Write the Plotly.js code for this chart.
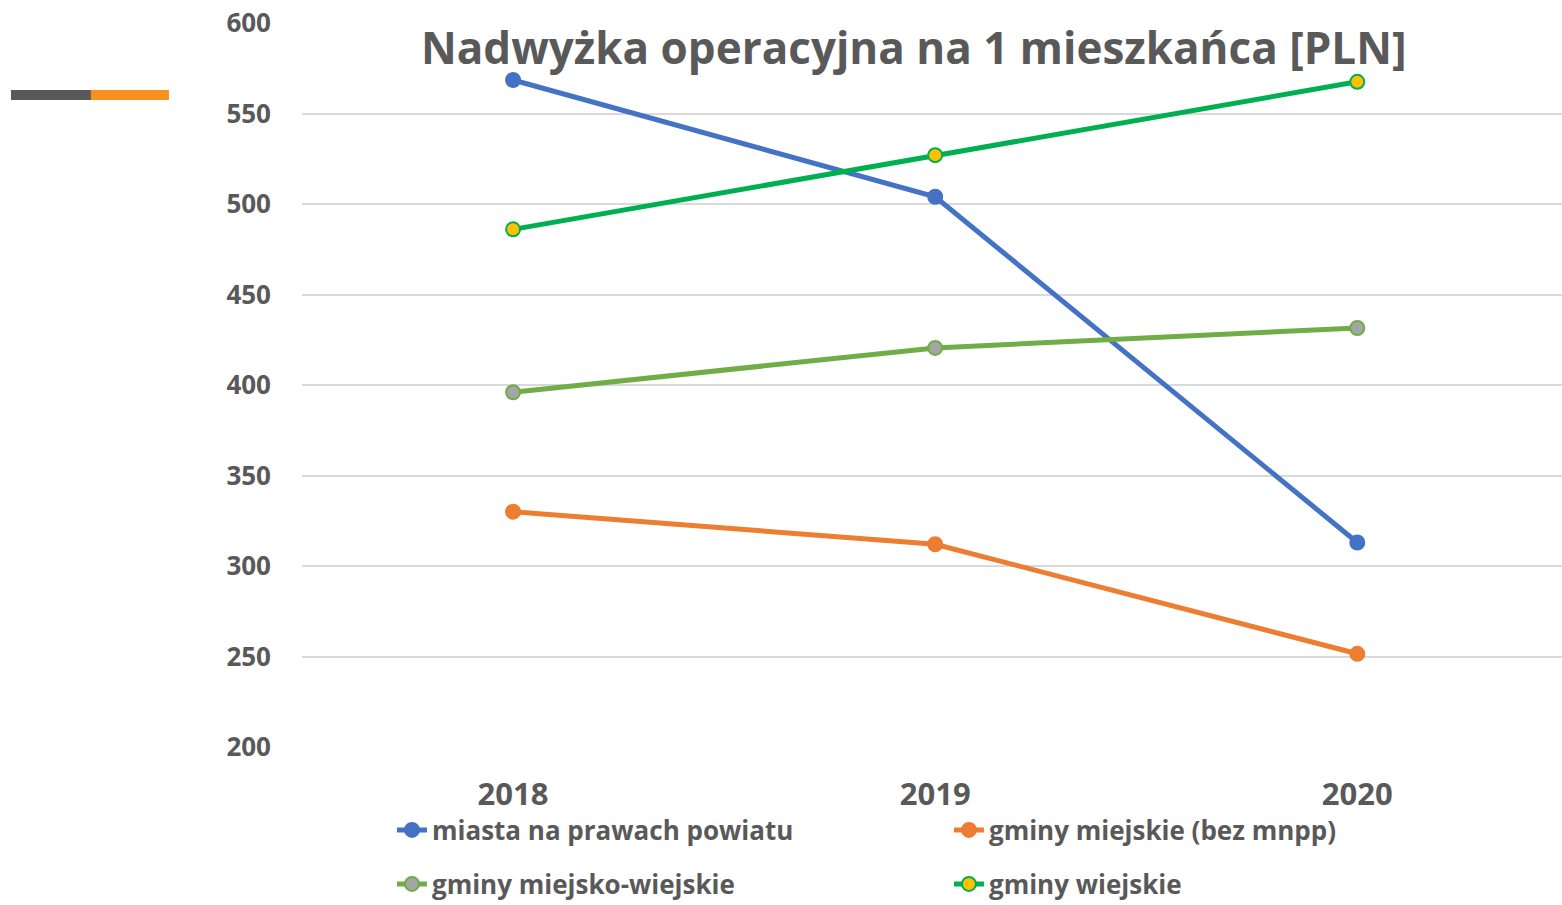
<!DOCTYPE html>
<html>
<head>
<meta charset="utf-8">
<script src="https://cdn.plot.ly/plotly-3.0.1.min.js"></script>
<style>html,body{margin:0;padding:0;background:#fff;overflow:hidden}#chart{width:1562px;height:905px}</style>
</head>
<body>
<div id="chart"></div>
<script>
const years = ['2018', '2019', '2020'];
const seriesNames = ['miasta na prawach powiatu', 'gminy miejskie (bez mnpp)', 'gminy miejsko-wiejskie', 'gminy wiejskie'];
const miastaNPP = [568.5, 504, 313];
const gminyMiejskie = [330, 312, 251.5];
const gminyMiejskoWiejskie = [396, 420.5, 431.5];
const gminyWiejskie = [486, 527, 567.5];
const titleText = 'Nadwyżka operacyjna na 1 mieszkańca [PLN]';

const fontFam = '"Open Sans", "DejaVu Sans", sans-serif';
const txtCol = '#595959';

function tr(name, y, lineCol, mFill, mLine, leg) {
  return {
    type: 'scatter', mode: 'lines+markers', name: '<b>' + name + '</b>', x: years, y: y,
    legend: leg,
    line: {color: lineCol, width: 5},
    marker: {size: 14, color: mFill, line: {color: mLine, width: 2}}
  };
}
const data = [
  tr(seriesNames[0], miastaNPP, '#4472C4', '#4472C4', '#4472C4', 'legend'),
  tr(seriesNames[1], gminyMiejskie, '#ED7D31', '#ED7D31', '#ED7D31', 'legend'),
  tr(seriesNames[2], gminyMiejskoWiejskie, '#70AD47', '#A5A5A5', '#70AD47', 'legend2'),
  tr(seriesNames[3], gminyWiejskie, '#00B050', '#FFC000', '#00B050', 'legend2')
];

const legBase = {orientation: 'h', xref: 'paper', x: 0.0714, xanchor: 'left',
  yref: 'container', yanchor: 'middle', entrywidth: 512, entrywidthmode: 'pixels',
  bgcolor: 'rgba(0,0,0,0)', font: {size: 26, color: txtCol, family: fontFam}};

const layout = {
  width: 1562, height: 905,
  margin: {l: 302, r: 0, t: 23, b: 158},
  paper_bgcolor: '#fff', plot_bgcolor: '#fff',
  font: {family: fontFam, color: txtCol},
  title: {text: '<b>' + titleText + '</b>', font: {size: 44, color: txtCol, family: fontFam},
          xref: 'container', x: 0.585, xanchor: 'center', yref: 'container', y: 0.946, yanchor: 'middle'},
  xaxis: {type: 'category', range: [-0.5, 2.485], showgrid: false, zeroline: false, showline: false,
          ticks: '', tickfont: {size: 31, color: txtCol, family: fontFam}, ticklabelstandoff: 26,
          tickprefix: '<b>', ticksuffix: '</b>'},
  yaxis: {range: [200, 600], dtick: 50, showgrid: true, gridcolor: '#D9D9D9', gridwidth: 2,
          zeroline: false, showline: false, ticks: '', ticklabelstandoff: 30,
          tickfont: {size: 26, color: txtCol, family: fontFam}, tickprefix: '<b>', ticksuffix: '</b>'},
  showlegend: true,
  legend: Object.assign({}, legBase, {y: 1 - 830 / 905}),
  legend2: Object.assign({}, legBase, {y: 1 - 884 / 905}),
  shapes: [
    {type: 'rect', xref: 'paper', yref: 'paper', x0: -0.2310, x1: -0.1675, y0: 0.8936, y1: 0.9075,
     fillcolor: '#595959', line: {width: 0}},
    {type: 'rect', xref: 'paper', yref: 'paper', x0: -0.1675, x1: -0.1056, y0: 0.8936, y1: 0.9075,
     fillcolor: '#F7901E', line: {width: 0}}
  ]
};

Plotly.newPlot('chart', data, layout, {displayModeBar: false, staticPlot: true});
</script>
</body>
</html>
